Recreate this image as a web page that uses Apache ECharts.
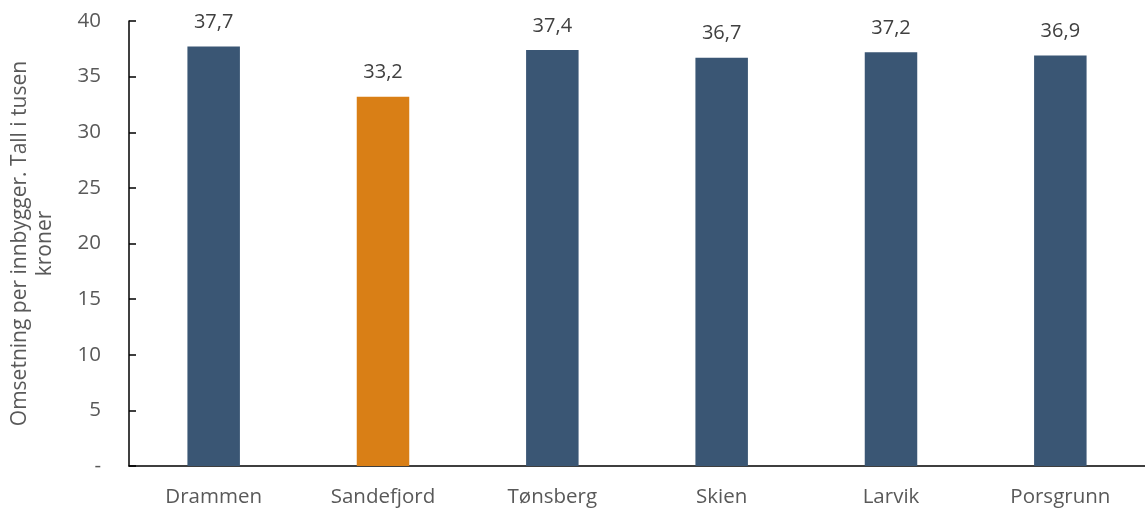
<!DOCTYPE html>
<html>
<head>
<meta charset="utf-8">
<script src="https://cdn.jsdelivr.net/npm/echarts@6/dist/echarts.min.js"></script>
<style>
  html, body { margin: 0; padding: 0; background: #ffffff; }
  #chart { width: 1145px; height: 511px; }
</style>
</head>
<body>
<div id="chart"></div>
<script>
// Omsetning per innbygger, tusen kroner
const categories = ['Drammen', 'Sandefjord', 'Tønsberg', 'Skien', 'Larvik', 'Porsgrunn'];
const values = [37.7, 33.2, 37.4, 36.7, 37.2, 36.9];
const highlighted = 'Sandefjord';
const yTicks = [0, 5, 10, 15, 20, 25, 30, 35, 40];

const FONT = '"Open Sans", "Noto Sans", sans-serif';
const BLUE = '#3a5674';
const ORANGE = '#d97f16';

const chart = echarts.init(document.getElementById('chart'), null, { renderer: 'canvas' });

chart.setOption({
  animation: false,
  backgroundColor: '#ffffff',
  grid: { left: 129, right: 0, top: 21, bottom: 45, containLabel: false, outerBoundsMode: 'none' },
  xAxis: {
    type: 'category',
    data: categories,
    axisLine: { show: true, lineStyle: { color: '#000000', width: 1.5 } },
    axisTick: { show: false },
    axisLabel: { color: '#595959', fontFamily: FONT, fontSize: 20.5, margin: 21 },
    splitLine: { show: false }
  },
  yAxis: {
    type: 'value',
    min: yTicks[0],
    max: yTicks[yTicks.length - 1],
    interval: 5,
    name: 'Omsetning per innbygger. Tall i tusen\nkroner',
    nameLocation: 'middle',
    nameGap: 71,
    nameTextStyle: { color: '#595959', fontFamily: FONT, fontSize: 21, lineHeight: 25, align: 'center' },
    axisLine: { show: true, lineStyle: { color: '#000000', width: 1.5 } },
    axisTick: { show: true, inside: true, length: 7, lineStyle: { color: '#000000', width: 1.5 } },
    axisLabel: {
      color: '#595959', fontFamily: FONT, fontSize: 20.5, margin: 28,
      formatter: v => (v === 0 ? '-' : String(v))
    },
    splitLine: { show: false }
  },
  series: [{
    type: 'bar',
    barWidth: '31%',
    data: categories.map((c, i) => ({
      value: values[i],
      itemStyle: { color: c === highlighted ? ORANGE : BLUE }
    })),
    label: {
      show: true,
      position: 'top',
      distance: 14,
      color: '#404040',
      fontFamily: FONT,
      fontSize: 20,
      formatter: p => p.value.toFixed(1).replace('.', ',')
    }
  }]
});
</script>
</body>
</html>
